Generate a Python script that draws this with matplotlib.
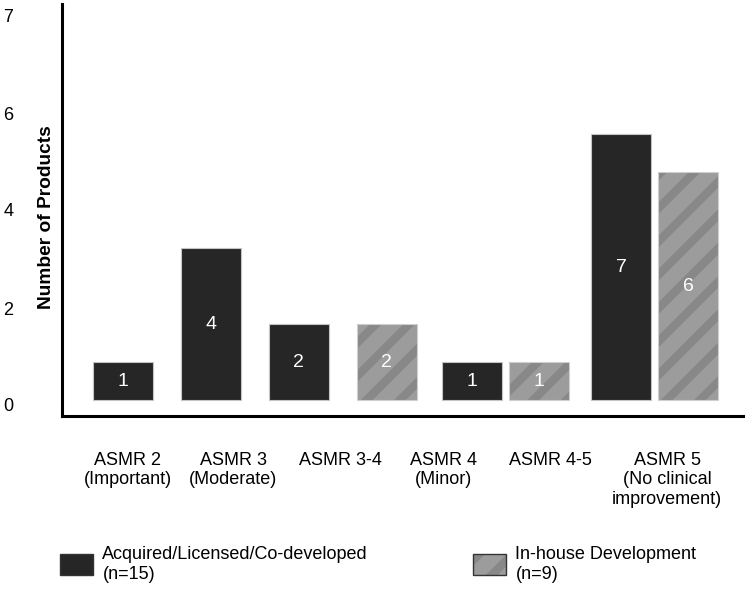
import matplotlib
matplotlib.use("Agg")
import matplotlib.pyplot as plt
from matplotlib.patches import Patch

plt.rcParams["font.family"] = ["Liberation Sans", "DejaVu Sans"]
plt.rcParams["hatch.color"] = "#888888"
plt.rcParams["hatch.linewidth"] = 6.0

# data
categories = ["ASMR 2\n(Important)", "ASMR 3\n(Moderate)", "ASMR 3-4",
              "ASMR 4\n(Minor)", "ASMR 4-5", "ASMR 5\n(No clinical\nimprovement)"]
acquired = [1, 4, 2, 1, 7]
inhouse = [2, 1, 6]
ytick_labels = ["0", "2", "4", "6", "7"]
legend_labels = ["Acquired/Licensed/Co-developed\n(n=15)", "In-house Development\n(n=9)"]

# layout (x in axis pixels, the odd y ticks sit where the original put them)
acq_x = [61, 149, 236.5, 410, 559]
inh_x = [324.7, 477, 626]
label_x = [66, 171, 278, 382, 488, 605]
ytick_pos = [-0.13, 2.42, 5.0, 7.55, 10.13]
BAR_W = 60

DARK = "#262626"
GRAY = "#9c9c9c"

fig = plt.figure(figsize=(7.5, 5.91), dpi=100)
ax = fig.add_axes([62 / 750, 1 - 416 / 591, 681 / 750, 412 / 591])

ax.bar(acq_x, acquired, width=BAR_W, color=DARK, edgecolor="#c4c4c4", linewidth=0.8)
ax.bar(inh_x, inhouse, width=BAR_W, color=GRAY, hatch="/", linewidth=0)
ax.bar(inh_x, inhouse, width=BAR_W, fill=False, edgecolor="#cfcfcf", linewidth=0.8)

for x, v in zip(acq_x, acquired):
    ax.text(x, v / 2, str(v), color="white", ha="center", va="center", fontsize=14)
for x, v in zip(inh_x, inhouse):
    ax.text(x, v / 2, str(v), color="white", ha="center", va="center", fontsize=14)

ax.set_xlim(0, 681)
ax.set_ylim(-0.42, 10.42)

ax.set_xticks(label_x)
ax.set_xticklabels(categories, fontsize=13, linespacing=1.18)
ax.set_yticks(ytick_pos)
ax.set_yticklabels(ytick_labels, fontsize=13)
ax.tick_params(axis="x", length=0, pad=26)
ax.tick_params(axis="y", length=0, pad=35)

ax.set_ylabel("Number of Products", fontsize=13.8, fontweight="bold")
ax.yaxis.set_label_coords(-0.01, 0.483)

for s in ["top", "right"]:
    ax.spines[s].set_visible(False)
for s in ["left", "bottom"]:
    ax.spines[s].set_linewidth(2.2)
    ax.spines[s].set_color("black")

# legend, two separate blocks
h1 = Patch(facecolor=DARK, edgecolor="#333333", linewidth=1)
h2a = Patch(facecolor=GRAY, hatch="/", linewidth=0)
h2b = Patch(fill=False, edgecolor="#333333", linewidth=1)
common = dict(frameon=False, fontsize=13, handlelength=1.85, handleheight=1.4,
              handletextpad=0.5, borderpad=0, borderaxespad=0, loc="upper left")
fig.legend([h1], [legend_labels[0]], bbox_to_anchor=(60 / 750, 1 - 546 / 591), **common)
fig.legend([(h2a, h2b)], [legend_labels[1]], bbox_to_anchor=(473 / 750, 1 - 546 / 591), **common)

fig.savefig("out.png", dpi=100)
